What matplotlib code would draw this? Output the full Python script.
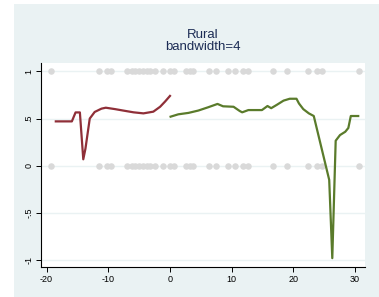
import matplotlib
matplotlib.use("Agg")
import matplotlib.pyplot as plt
from matplotlib.patches import Rectangle

# ---- data ----
left_x = [-18.5, -15.9, -15.3, -14.6, -14.05, -13.7, -13.0, -12.2, -11.1, -10.4,
          -8.9, -7.6, -5.9, -4.3, -2.7, -1.6, -0.8, 0.0]
left_y = [0.47, 0.47, 0.565, 0.565, 0.068, 0.18, 0.50, 0.57, 0.605, 0.615,
          0.60, 0.585, 0.566, 0.555, 0.573, 0.625, 0.68, 0.74]

right_x = [0.1, 1.35, 3.0, 4.6, 6.2, 7.7, 8.6, 10.3, 11.3, 11.7, 12.7, 14.9, 15.8,
           16.4, 17.3, 18.4, 19.4, 20.5, 20.9, 21.6, 22.5, 23.3, 25.8, 26.3,
           26.85, 27.55, 28.4, 28.9, 29.3, 30.5]
right_y = [0.52, 0.545, 0.56, 0.585, 0.62, 0.655, 0.63, 0.625, 0.58, 0.566, 0.59,
           0.59, 0.633, 0.61, 0.645, 0.69, 0.71, 0.71, 0.66, 0.60, 0.555, 0.527,
           -0.15, -0.98, 0.265, 0.325, 0.36, 0.40, 0.527, 0.527]

dot_x = [-19.3, -11.5, -10.2, -9.5, -6.9, -6.2, -5.6, -5.0, -4.4, -3.8, -3.2,
         -2.5, -1.2, 0.0, 0.7, 2.6, 3.2, 3.8, 6.3, 7.5, 9.4, 10.6, 11.9, 12.6,
         16.7, 18.9, 22.3, 23.8, 24.6, 30.6]
dot_levels = [1, 0]

x_ticks = [-20, -10, 0, 10, 20, 30]
y_ticks = [-1, -0.5, 0, 0.5, 1]
y_ticklabels = ["-1", "-.5", "0", ".5", "1"]
title_text = "Rural\nbandwidth=4"

# ---- style ----
plt.rcParams['font.family'] = ['Liberation Sans', 'DejaVu Sans']
bg = "#eaf2f3"
red = "#8f2f38"
green = "#5a7b2b"
navy = "#1c2c55"

fig = plt.figure(figsize=(3.79, 2.97), dpi=100)
fig.patch.set_facecolor("white")
fig.patches.append(Rectangle((14 / 379, 0.0), 1.0, 1 - 4 / 297,
                             transform=fig.transFigure, facecolor=bg,
                             edgecolor="none", zorder=-10))

ax = fig.add_axes([41 / 379, 1 - 267.3 / 297, (365 - 41) / 379, (267.3 - 63) / 297])
ax.set_zorder(1)
ax.set_facecolor("white")
ax.set_xlim(-20.9, 31.6)
ax.set_ylim(-1.077, 1.089)

for yv in y_ticks:
    ax.axhline(yv, color=bg, lw=1.0, zorder=1)

for lvl in dot_levels:
    ax.scatter(dot_x, [lvl] * len(dot_x), s=22, color="#d9d9d9", zorder=2,
               linewidths=0)

ax.plot(left_x, left_y, color=red, lw=1.6, zorder=3, solid_joinstyle="round")
ax.plot(right_x, right_y, color=green, lw=1.6, zorder=3, solid_joinstyle="round")

for side in ["top", "right"]:
    ax.spines[side].set_visible(False)
for side in ["left", "bottom"]:
    ax.spines[side].set_color("black")
    ax.spines[side].set_linewidth(0.8)

ax.set_xticks(x_ticks)
ax.set_xticklabels([str(t) for t in x_ticks])
ax.set_yticks(y_ticks)
ax.set_yticklabels(y_ticklabels, rotation=90, va="center")
ax.tick_params(axis="both", length=3.5, width=0.7, labelsize=6.5,
               colors="black", pad=2)

fig.text(203 / 379, 1 - 40.5 / 297, title_text, ha="center", va="center",
         fontsize=9.5, color=navy, linespacing=1.0)

fig.savefig("out.png", dpi=100, facecolor=fig.get_facecolor())
